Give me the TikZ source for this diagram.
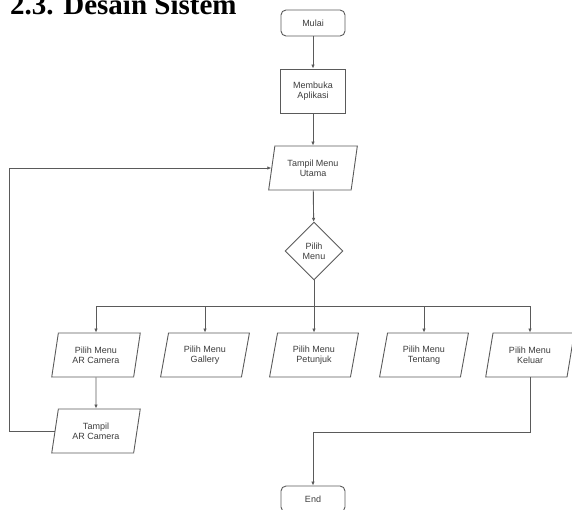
\documentclass[tikz,border=0pt]{standalone}
\usepackage{fontspec}
\usepackage{xcolor}
\setmainfont{Liberation Sans}
\newfontfamily\titlefont{Liberation Serif}
\definecolor{linegray}{RGB}{90,90,90}
\definecolor{textgray}{RGB}{60,60,60}
\usetikzlibrary{shapes.geometric,arrows.meta}

\tikzset{
    box/.style={draw=linegray, line width=0.9pt, align=center, text=textgray,
        font=\fontsize{9}{10}\selectfont, inner sep=0pt},
    terminal/.style={box, rounded corners=5pt, minimum width=64pt, minimum height=26pt},
    process/.style={box, minimum width=65pt, minimum height=44pt},
    io/.style={box, trapezium, trapezium left angle=76, trapezium right angle=104,
        trapezium stretches=true, minimum width=89pt, minimum height=44pt},
    decision/.style={box, diamond, minimum width=58pt, minimum height=58pt},
    line/.style={draw=linegray, line width=0.9pt},
    arr/.style={line, -{Latex[length=4pt,width=3.5pt]}}
}

\begin{document}
\begin{tikzpicture}[x=1pt, y=-1pt]
    \useasboundingbox (0,0) rectangle (572,509);

    % Title (cut at the top of the page)
    \node[anchor=base west, inner sep=0pt, font=\titlefont\bfseries\fontsize{29}{32}\selectfont]
        (title) at (10,14) {2.3. Desain Sistem};

    % Main column
    \node[terminal] (mulai) at (313,23) {Mulai};
    \node[process] (buka) at (313,91) {Membuka\\Aplikasi};
    \node[io] (utama) at (313,168) {Tampil Menu\\Utama};
    \node[decision] (pilih) at (314,251) {Pilih\\Menu};

    % Menu choices
    \node[io] (camera) at (96,355) {Pilih Menu\\AR Camera};
    \node[io] (gallery) at (205,355) {Pilih Menu\\Gallery};
    \node[io] (petunjuk) at (314,355) {Pilih Menu\\Petunjuk};
    \node[io] (tentang) at (424,355) {Pilih Menu\\Tentang};
    \node[io] (keluar) at (530,355) {Pilih Menu\\Keluar};

    \node[io] (tampilar) at (96,431) {Tampil\\AR Camera};
    \node[terminal] (end) at (313,499) {End};

    % Connectors
    \draw[arr] (mulai) -- (buka);
    \draw[arr] (buka) -- (utama);
    \draw[arr] (utama) -- (pilih);
    \coordinate (bus) at (314,306);
    \draw[line] (pilih.south) -- (bus);
    \foreach \m in {camera,gallery,petunjuk,tentang,keluar} {
        \draw[arr] (bus) -| (\m.north);
    }
    \draw[arr] (camera) -- (tampilar);
    \draw[arr] (tampilar.west) -- ++(-45,0) |- (utama.west);
    \draw[arr] (keluar.south) -- ++(0,55) -| (end.north);
\end{tikzpicture}
\end{document}
